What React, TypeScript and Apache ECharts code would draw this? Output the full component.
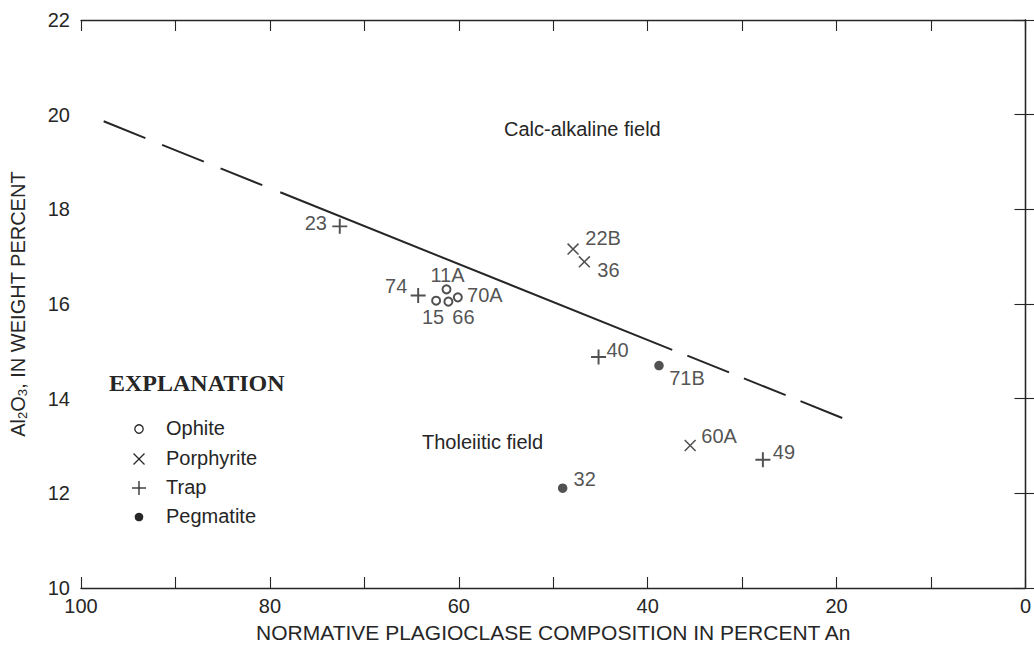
import React, { useEffect, useRef } from "react";
import * as echarts from "echarts";

// ---- data (x = normative plagioclase, percent An; y = Al2O3 weight percent) ----
const ophiteIds = ["11A", "15", "66", "70A"];
const ophiteAn = [61.3, 62.4, 61.1, 60.1];
const ophiteAl = [16.31, 16.07, 16.05, 16.14];

const porphyriteIds = ["22B", "36", "60A"];
const porphyriteAn = [47.9, 46.7, 35.5];
const porphyriteAl = [17.16, 16.89, 13.01];

const trapIds = ["23", "74", "40", "49"];
const trapAn = [72.6, 64.3, 45.2, 27.8];
const trapAl = [17.64, 16.18, 14.88, 12.71];

const pegmatiteIds = ["71B", "32"];
const pegmatiteAn = [38.8, 49.0];
const pegmatiteAl = [14.7, 12.11];

// boundary between calc-alkaline and tholeiitic fields
const boundaryDashLeftAn = [97.6, 80.8];
const boundaryDashLeftAl = [19.86, 18.51];
const boundarySolidAn = [78.9, 37.4];
const boundarySolidAl = [18.36, 15.03];
const boundaryDashRightAn = [35.8, 19.0];
const boundaryDashRightAl = [14.91, 13.56];

const xTicks = [0, 20, 40, 60, 80, 100];

// label placement per sample (style, not data)
const labelOffset: Record<string, [number, number]> = {
  "23": [-24, -3],
  "74": [-22, -9],
  "11A": [1, -14],
  "15": [-3, 16],
  "66": [15, 15],
  "70A": [27, -2],
  "22B": [30, -11],
  "36": [24, 8],
  "40": [19, -7],
  "71B": [28, 12],
  "60A": [29, -10],
  "49": [21, -8],
  "32": [22, -9],
};

const INK = "#262626";
const SANS = "'Liberation Sans', Arial, Helvetica, sans-serif";
const SERIF = "'Liberation Serif', 'Times New Roman', serif";

const PLUS_PATH =
  "path://M0,4.35 H10 V5.65 H0 Z M4.35,0 H5.65 V10 H4.35 Z";
const CROSS_PATH =
  "path://M0.9,0 L10,9.1 L9.1,10 L0,0.9 Z M9.1,0 L10,0.9 L0.9,10 L0,9.1 Z";

function pts(ids: string[], xs: number[], ys: number[]) {
  return ids.map((id, i) => ({
    name: id,
    value: [xs[i], ys[i]],
    label: { offset: labelOffset[id] },
  }));
}

function line(xs: number[], ys: number[]) {
  return xs.map((x, i) => [x, ys[i]]);
}

const pointLabel = {
  show: true,
  position: "inside" as const,
  formatter: "{b}",
  color: INK,
  fontFamily: SANS,
  fontSize: 20,
};

export default function App() {
  const ref = useRef<HTMLDivElement>(null);
  useEffect(() => {
    if (!ref.current) return;
    const chart = echarts.init(ref.current, undefined, { renderer: "svg" });
    const axisLine = { show: true, lineStyle: { color: INK, width: 1.3 } };
    const tick = { show: true, inside: true, length: 11, lineStyle: { color: INK, width: 1.1 } };
    const legendRows = [429, 459, 488, 517];
    const legendNames = ["Ophite", "Porphyrite", "Trap", "Pegmatite"];
    const sx = 139;
    chart.setOption({
      animation: false,
      backgroundColor: "#ffffff",
      grid: { left: 70, right: 5, top: 20, bottom: 53 },
      xAxis: [
        {
          type: "value",
          min: 0,
          max: 100,
          interval: 10,
          inverse: true,
          position: "bottom",
          axisLine,
          axisTick: tick,
          splitLine: { show: false },
          axisLabel: {
            color: INK,
            fontFamily: SANS,
            fontSize: 20,
            margin: 8,
            formatter: (v: number) => (xTicks.includes(v) ? String(v) : ""),
          },
          name: "NORMATIVE PLAGIOCLASE COMPOSITION IN PERCENT An",
          nameLocation: "middle",
          nameGap: 34,
          nameTextStyle: { color: INK, fontFamily: SANS, fontSize: 21 },
        },
        {
          type: "value",
          min: 0,
          max: 100,
          interval: 10,
          inverse: true,
          position: "top",
          axisLine,
          axisTick: tick,
          axisLabel: { show: false },
          splitLine: { show: false },
        },
      ],
      yAxis: [
        {
          type: "value",
          min: 10,
          max: 22,
          interval: 2,
          position: "left",
          axisLine,
          axisTick: tick,
          splitLine: { show: false },
          axisLabel: { color: INK, fontFamily: SANS, fontSize: 20, margin: 11 },
          name: "Al{sub|2}O{sub|3}, IN WEIGHT PERCENT",
          nameLocation: "middle",
          nameRotate: 90,
          nameGap: 52,
          nameTextStyle: {
            color: INK,
            fontFamily: SANS,
            fontSize: 20,
            rich: {
              sub: { fontSize: 13, fontFamily: SANS, color: INK, padding: [9, 0, 0, 0] },
            },
          },
        },
        {
          type: "value",
          min: 10,
          max: 22,
          interval: 2,
          position: "right",
          axisLine,
          axisTick: tick,
          axisLabel: { show: false },
          splitLine: { show: false },
        },
      ],
      series: [
        {
          type: "line",
          name: "boundary-dash-left",
          data: line(boundaryDashLeftAn, boundaryDashLeftAl),
          showSymbol: false,
          symbol: "none",
          lineStyle: { color: INK, width: 2, type: [45, 18] },
          silent: true,
        },
        {
          type: "line",
          name: "boundary",
          data: line(boundarySolidAn, boundarySolidAl),
          showSymbol: false,
          symbol: "none",
          lineStyle: { color: INK, width: 2 },
          silent: true,
        },
        {
          type: "line",
          name: "boundary-dash-right",
          data: line(boundaryDashRightAn, boundaryDashRightAl),
          showSymbol: false,
          symbol: "none",
          lineStyle: { color: INK, width: 2, type: [45, 16] },
          silent: true,
        },
        {
          type: "scatter",
          name: "Ophite",
          data: pts(ophiteIds, ophiteAn, ophiteAl),
          symbol: "emptyCircle",
          symbolSize: 8,
          itemStyle: { color: INK, borderColor: INK, borderWidth: 1.3 },
          label: pointLabel,
        },
        {
          type: "scatter",
          name: "Porphyrite",
          data: pts(porphyriteIds, porphyriteAn, porphyriteAl),
          symbol: CROSS_PATH,
          symbolSize: 12,
          itemStyle: { color: INK },
          label: pointLabel,
        },
        {
          type: "scatter",
          name: "Trap",
          data: pts(trapIds, trapAn, trapAl),
          symbol: PLUS_PATH,
          symbolSize: 15,
          itemStyle: { color: INK },
          label: pointLabel,
        },
        {
          type: "scatter",
          name: "Pegmatite",
          data: pts(pegmatiteIds, pegmatiteAn, pegmatiteAl),
          symbol: "circle",
          symbolSize: 9.5,
          itemStyle: { color: INK },
          label: pointLabel,
        },
      ],
      graphic: [
        {
          type: "text",
          left: 504,
          top: 119,
          style: { text: "Calc-alkaline field", fill: INK, font: `20px ${SANS}` },
        },
        {
          type: "text",
          left: 422,
          top: 432,
          style: { text: "Tholeiitic field", fill: INK, font: `20px ${SANS}` },
        },
        {
          type: "text",
          left: 109,
          top: 371,
          style: { text: "EXPLANATION", fill: INK, font: `bold 24px ${SERIF}` },
        },
        ...legendNames.map((n, i) => ({
          type: "text",
          left: 166,
          top: legendRows[i] - 11,
          style: { text: n, fill: INK, font: `20px ${SANS}` },
        })),
        {
          type: "circle",
          shape: { cx: sx, cy: legendRows[0], r: 4.2 },
          style: { fill: "none", stroke: INK, lineWidth: 1.3 },
        },
        {
          type: "line",
          shape: { x1: sx - 5.5, y1: legendRows[1] - 5.5, x2: sx + 5.5, y2: legendRows[1] + 5.5 },
          style: { stroke: INK, lineWidth: 1.3 },
        },
        {
          type: "line",
          shape: { x1: sx - 5.5, y1: legendRows[1] + 5.5, x2: sx + 5.5, y2: legendRows[1] - 5.5 },
          style: { stroke: INK, lineWidth: 1.3 },
        },
        {
          type: "line",
          shape: { x1: sx - 7, y1: legendRows[2], x2: sx + 7, y2: legendRows[2] },
          style: { stroke: INK, lineWidth: 1.3 },
        },
        {
          type: "line",
          shape: { x1: sx, y1: legendRows[2] - 7, x2: sx, y2: legendRows[2] + 7 },
          style: { stroke: INK, lineWidth: 1.3 },
        },
        {
          type: "circle",
          shape: { cx: sx, cy: legendRows[3], r: 4.3 },
          style: { fill: INK },
        },
      ],
    });
    return () => chart.dispose();
  }, []);
  return (
    <div
      ref={ref}
      style={{ position: "fixed", left: 0, top: 0, width: 1034, height: 648, background: "#fff" }}
    />
  );
}
